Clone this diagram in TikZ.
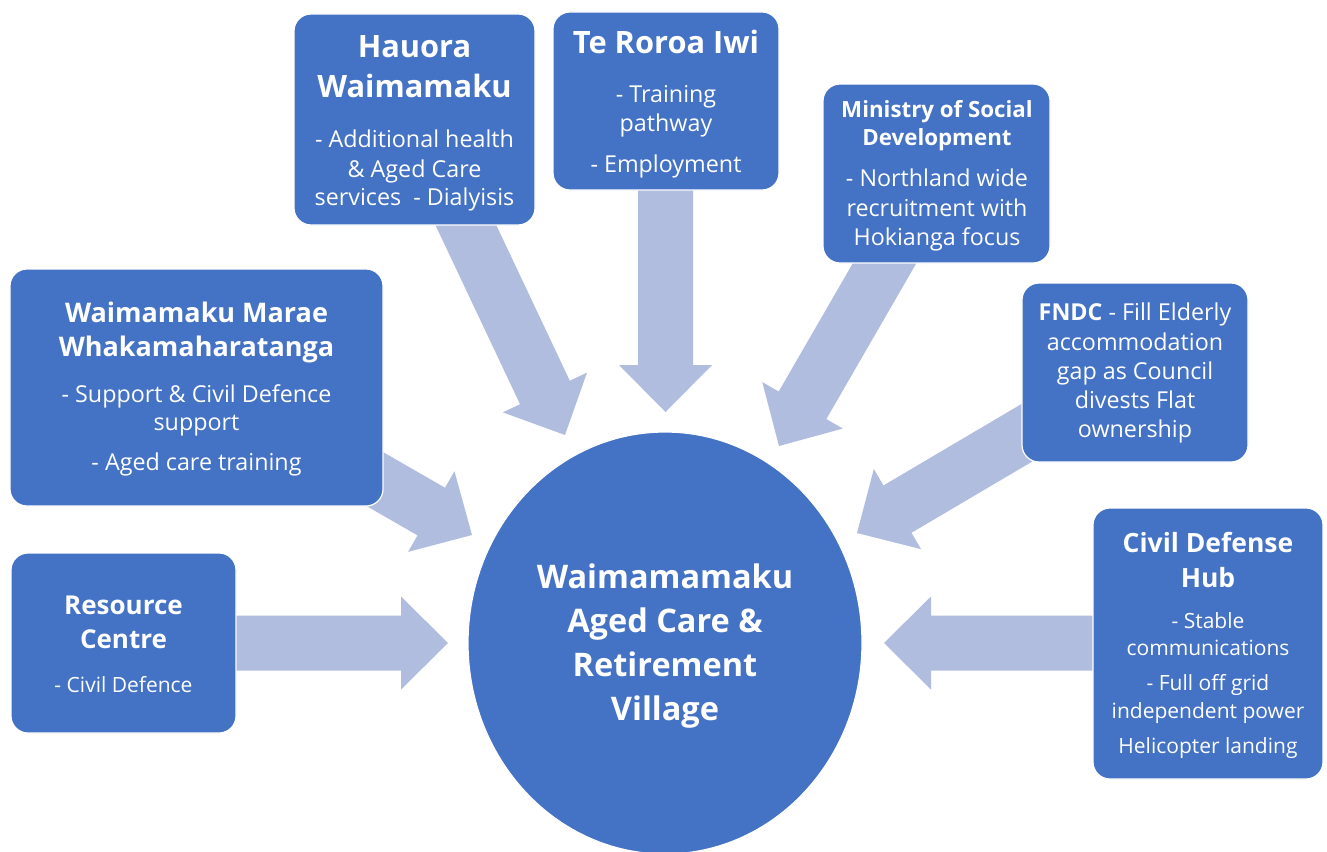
\documentclass[tikz,border=0pt]{standalone}
\usepackage{fontspec}
\setmainfont{Open Sans}
\usetikzlibrary{shapes.geometric,calc}
\definecolor{boxblue}{HTML}{4472C4}
\definecolor{arrowblue}{HTML}{B0BDDF}
\tikzset{
  box/.style={draw=white, line width=1.2pt, fill=boxblue, rounded corners=17pt, inner sep=0pt},
  hub/.style={ellipse, draw=white, line width=1.2pt, fill=boxblue, inner sep=0pt, minimum width=394pt, minimum height=422pt},
  ln/.style={anchor=base, text=white, inner sep=0pt, outer sep=0pt},
  tA/.style={ln, font=\bfseries\fontsize{30.8}{36}\selectfont},
  tB/.style={ln, font=\bfseries\fontsize{26.5}{32}\selectfont},
  tC/.style={ln, font=\bfseries\fontsize{27}{32}\selectfont},
  tR/.style={ln, font=\bfseries\fontsize{26}{31}\selectfont},
  tD/.style={ln, font=\bfseries\fontsize{22.3}{28}\selectfont},
  tE/.style={ln, font=\bfseries\fontsize{32.5}{38}\selectfont},
  bA/.style={ln, font=\fontsize{23.3}{28}\selectfont},
  bB/.style={ln, font=\fontsize{21}{25}\selectfont},
  blockfill/.style={fill=arrowblue},
}
\newcommand{\blockarrow}[3]{% #1 tail, #2 tip, #3 name of head base
  \coordinate (#3) at ($(#2)!47pt!(#1)$);
  \fill[blockfill] ($(#1)!27.5pt!90:(#2)$) -- ($(#3)!27.5pt!90:(#2)$) -- ($(#3)!46.5pt!90:(#2)$)
    -- (#2) -- ($(#3)!46.5pt!-90:(#2)$) -- ($(#3)!27.5pt!-90:(#2)$) -- ($(#1)!27.5pt!-90:(#2)$) -- cycle;
}
\newcommand{\tline}[5]{\node[#4] (#1) at (#2,#3) {#5};}
\begin{document}
\begin{tikzpicture}[x=1pt,y=-1pt]
\useasboundingbox (0,0) rectangle (1327,851);
\fill[white] (0,0) rectangle (1327,851);

% connector end points
\coordinate (aHt) at (454,200);   \coordinate (aHp) at (565,435);
\coordinate (aTt) at (665.5,170); \coordinate (aTp) at (665.5,412);
\coordinate (aMt) at (898,240);   \coordinate (aMp) at (779,446);
\coordinate (aFt) at (1040,425);  \coordinate (aFp) at (857,533);
\coordinate (aCt) at (1110,643);  \coordinate (aCp) at (884,643);
\coordinate (aWt) at (340,459);   \coordinate (aWp) at (472,535);
\coordinate (aRt) at (220,643);   \coordinate (aRp) at (448,643);

\blockarrow{aHt}{aHp}{aHh}
\blockarrow{aTt}{aTp}{aTh}
\blockarrow{aMt}{aMp}{aMh}
\blockarrow{aFt}{aFp}{aFh}
\blockarrow{aCt}{aCp}{aCh}
\blockarrow{aWt}{aWp}{aWh}
\blockarrow{aRt}{aRp}{aRh}

% boxes
\node[box, minimum width=241pt, minimum height=211pt] (hauora) at (414.5,119.5) {};
\node[box, minimum width=226pt, minimum height=178pt] (teroroa) at (666,101) {};
\node[box, minimum width=227pt, minimum height=179pt] (msd) at (936.5,173.5) {};
\node[box, minimum width=226pt, minimum height=179pt] (fndc) at (1135,372.5) {};
\node[box, minimum width=230pt, minimum height=271pt] (civil) at (1208,643.5) {};
\node[box, minimum width=373pt, minimum height=237pt] (marae) at (196.5,387.5) {};
\node[box, minimum width=225pt, minimum height=180pt] (resource) at (123.5,643) {};
\node[hub] (village) at (665,643) {};

% Hauora
\tline{h1}{414.5}{57}{tA}{Hauora}
\tline{h2}{414.5}{97}{tA}{Waimamaku}
\tline{h3}{414.5}{147}{bA}{- Additional health}
\tline{h4}{414.5}{177}{bA}{\& Aged Care}
\tline{h5}{414.5}{205}{bA}{services\ \ - Dialyisis}
% Te Roroa
\tline{r1}{666}{53}{tA}{Te Roroa Iwi}
\tline{r2}{666}{102}{bA}{- Training}
\tline{r3}{666}{131}{bA}{pathway}
\tline{r4}{666}{172}{bA}{- Employment}
% Ministry
\tline{m1}{937}{117}{tD}{Ministry of Social}
\tline{m2}{937}{145}{tD}{Development}
\tline{m3}{937}{186}{bA}{- Northland wide}
\tline{m4}{937}{216}{bA}{recruitment with}
\tline{m5}{937}{245}{bA}{Hokianga focus}
% FNDC
\tline{f1}{1135}{320}{bA}{{\bfseries FNDC} - Fill Elderly}
\tline{f2}{1135}{350}{bA}{accommodation}
\tline{f3}{1135}{379}{bA}{gap as Council}
\tline{f4}{1135}{408}{bA}{divests Flat}
\tline{f5}{1135}{437}{bA}{ownership}
% Civil Defense Hub
\tline{c1}{1208}{552}{tB}{Civil Defense}
\tline{c2}{1208}{587}{tB}{Hub}
\tline{c3}{1208}{628}{bB}{- Stable}
\tline{c4}{1208}{655}{bB}{communications}
\tline{c5}{1208}{690}{bB}{- Full off grid}
\tline{c6}{1208}{718}{bB}{independent power}
\tline{c7}{1208}{753}{bB}{Helicopter landing}
% Marae
\tline{w1}{196.5}{322}{tC}{Waimamaku Marae}
\tline{w2}{196.5}{356}{tC}{Whakamaharatanga}
\tline{w3}{196.5}{402}{bA}{- Support \& Civil Defence}
\tline{w4}{196.5}{430}{bA}{support}
\tline{w5}{196.5}{470}{bA}{- Aged care training}
% Resource Centre
\tline{s1}{123.5}{614}{tR}{Resource}
\tline{s2}{123.5}{648}{tR}{Centre}
\tline{s3}{123.5}{692}{bB}{- Civil Defence}
% Village
\tline{v1}{665}{588}{tE}{Waimamamaku}
\tline{v2}{665}{632}{tE}{Aged Care \&}
\tline{v3}{665}{676}{tE}{Retirement}
\tline{v4}{665}{720}{tE}{Village}
\end{tikzpicture}
\end{document}
